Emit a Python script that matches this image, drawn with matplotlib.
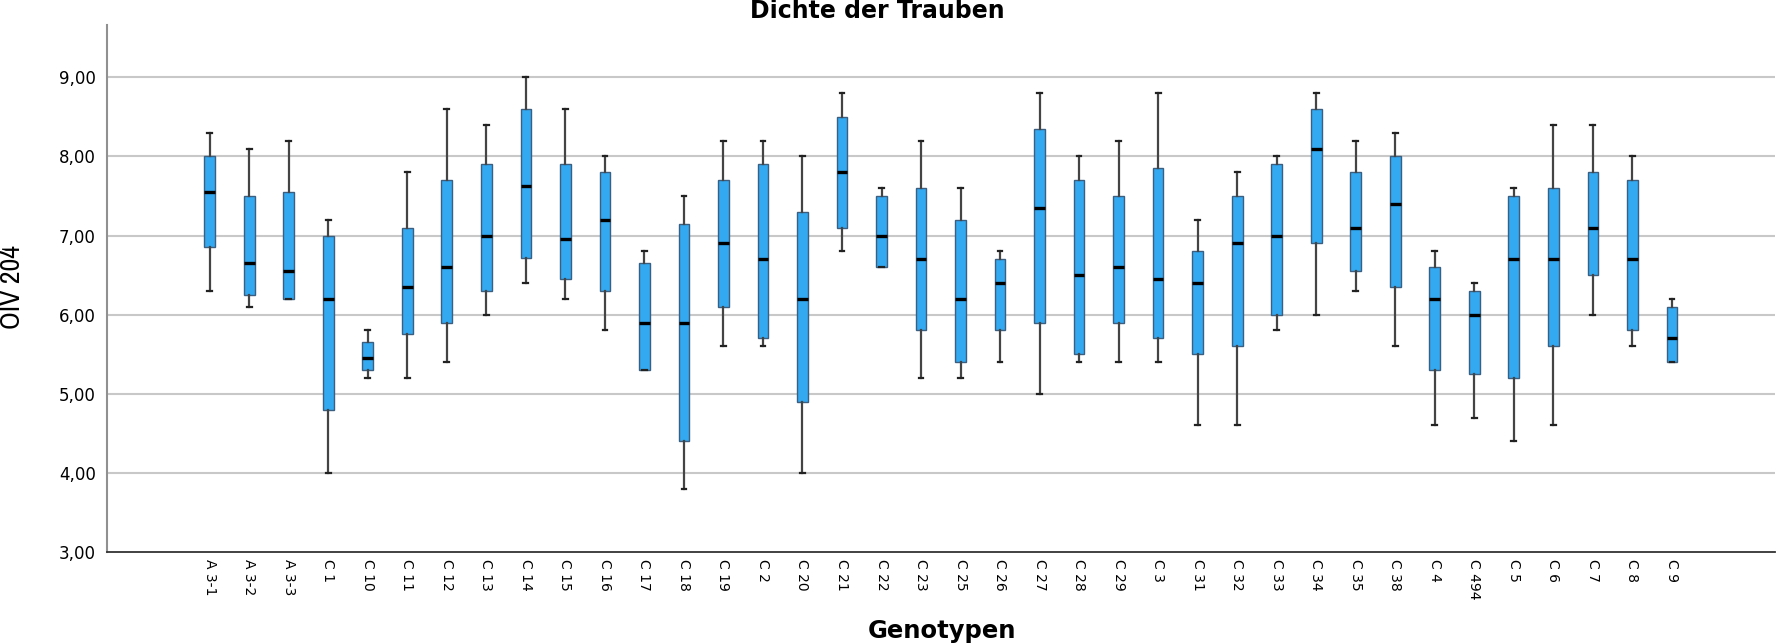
import matplotlib
matplotlib.use("Agg")
import matplotlib.pyplot as plt

# genotypes and box statistics (OIV 204)
genotypes = ["A 3-1", "A 3-2", "A 3-3", "C 1", "C 10", "C 11", "C 12", "C 13", "C 14", "C 15",
             "C 16", "C 17", "C 18", "C 19", "C 2", "C 20", "C 21", "C 22", "C 23", "C 25",
             "C 26", "C 27", "C 28", "C 29", "C 3", "C 31", "C 32", "C 33", "C 34", "C 35",
             "C 38", "C 4", "C 494", "C 5", "C 6", "C 7", "C 8", "C 9"]
whisk_hi = [8.3, 8.1, 8.2, 7.2, 5.8, 7.8, 8.6, 8.4, 9.0, 8.6,
            8.0, 6.8, 7.5, 8.2, 8.2, 8.0, 8.8, 7.6, 8.2, 7.6,
            6.8, 8.8, 8.0, 8.2, 8.8, 7.2, 7.8, 8.0, 8.8, 8.2,
            8.3, 6.8, 6.4, 7.6, 8.4, 8.4, 8.0, 6.2]
q3 = [8.0, 7.5, 7.55, 7.0, 5.65, 7.1, 7.7, 7.9, 8.6, 7.9,
      7.8, 6.65, 7.15, 7.7, 7.9, 7.3, 8.5, 7.5, 7.6, 7.2,
      6.7, 8.35, 7.7, 7.5, 7.85, 6.8, 7.5, 7.9, 8.6, 7.8,
      8.0, 6.6, 6.3, 7.5, 7.6, 7.8, 7.7, 6.1]
medians = [7.55, 6.65, 6.55, 6.2, 5.45, 6.35, 6.6, 7.0, 7.63, 6.95,
           7.2, 5.9, 5.9, 6.9, 6.7, 6.2, 7.8, 7.0, 6.7, 6.2,
           6.4, 7.35, 6.5, 6.6, 6.45, 6.4, 6.9, 7.0, 8.1, 7.1,
           7.4, 6.2, 6.0, 6.7, 6.7, 7.1, 6.7, 5.7]
q1 = [6.85, 6.25, 6.2, 4.8, 5.3, 5.75, 5.9, 6.3, 6.72, 6.45,
      6.3, 5.3, 4.4, 6.1, 5.7, 4.9, 7.1, 6.6, 5.8, 5.4,
      5.8, 5.9, 5.5, 5.9, 5.7, 5.5, 5.6, 6.0, 6.9, 6.55,
      6.35, 5.3, 5.25, 5.2, 5.6, 6.5, 5.8, 5.4]
whisk_lo = [6.3, 6.1, 6.2, 4.0, 5.2, 5.2, 5.4, 6.0, 6.4, 6.2,
            5.8, 5.3, 3.8, 5.6, 5.6, 4.0, 6.8, 6.6, 5.2, 5.2,
            5.4, 5.0, 5.4, 5.4, 5.4, 4.6, 4.6, 5.8, 6.0, 6.3,
            5.6, 4.6, 4.7, 4.4, 4.6, 6.0, 5.6, 5.4]
ytick_vals = [3, 4, 5, 6, 7, 8, 9]
ytick_labels = ["3,00", "4,00", "5,00", "6,00", "7,00", "8,00", "9,00"]

narrow = ["Liberation Sans Narrow", "Archivo Narrow", "DejaVu Sans"]

stats = []
for i in range(len(genotypes)):
    stats.append({"label": genotypes[i], "whislo": whisk_lo[i], "q1": q1[i], "med": medians[i],
                  "q3": q3[i], "whishi": whisk_hi[i], "fliers": []})

fig = plt.figure(figsize=(17.77, 6.43), dpi=100)
ax = fig.add_axes([0.0602, 0.1415, 0.9387, 0.8195])

ax.bxp(stats, positions=range(len(genotypes)), widths=0.27, patch_artist=True, showfliers=False,
       boxprops=dict(facecolor="#33A9F2", edgecolor="#3a5f80", linewidth=1.0),
       medianprops=dict(color="black", linewidth=2.4),
       whiskerprops=dict(color="#444444", linewidth=1.6),
       capprops=dict(color="#222222", linewidth=1.6), capwidths=0.12)

ax.set_xlim(-2.6, len(genotypes) - 1 + 2.61)
ax.set_ylim(3, 9.66)
ax.set_yticks(ytick_vals)
ax.set_yticklabels(ytick_labels, fontsize=12)
ax.set_xticks(range(len(genotypes)))
ax.set_xticklabels(genotypes, rotation=-90, fontsize=10)
ax.tick_params(axis="both", length=0)
ax.tick_params(axis="y", pad=8)
ax.tick_params(axis="x", pad=5)

for v in ytick_vals[1:]:
    ax.axhline(v, color="#c8c8c8", linewidth=1.5, zorder=0)

ax.spines["top"].set_visible(False)
ax.spines["right"].set_visible(False)
ax.spines["left"].set_color("#909090")
ax.spines["left"].set_linewidth(1.5)
ax.spines["bottom"].set_color("#333333")
ax.spines["bottom"].set_linewidth(1.3)

fig.text(0.4935, 0.972, "Dichte der Trauben", ha="center", va="baseline", fontsize=17, fontweight="bold")
fig.text(0.530, 0.0078, "Genotypen", ha="center", va="baseline", fontsize=17.5, fontweight="bold")
fig.text(0.0068, 0.554, "OIV 204", ha="center", va="center", rotation=90, fontsize=20, family=narrow)

fig.savefig("out.png", dpi=100)
